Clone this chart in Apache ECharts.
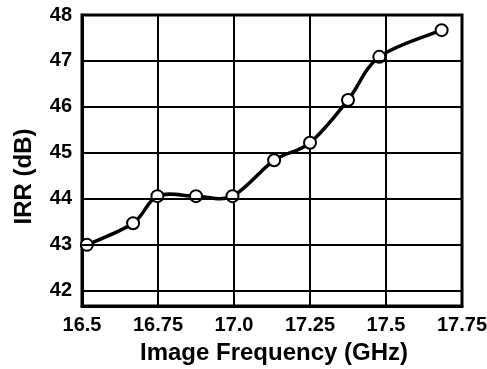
<!DOCTYPE html>
<html>
<head>
<meta charset="utf-8">
<script src="https://cdn.jsdelivr.net/npm/echarts@6/dist/echarts.min.js"></script>
<style>
  html, body { margin: 0; padding: 0; background: #fff; }
  #chart { width: 487px; height: 369px; }
</style>
</head>
<body>
<div id="chart"></div>
<script>
// Image rejection ratio versus image frequency
const freqGHz = [16.516, 16.668, 16.748, 16.875, 16.995, 17.132, 17.25, 17.375, 17.478, 17.683];
const irrDb   = [43.0, 43.47, 44.06, 44.06, 44.06, 44.84, 45.22, 46.15, 47.09, 47.67];

const xTickValues = [16.5, 16.75, 17.0, 17.25, 17.5, 17.75];
const xTickLabels = ['16.5', '16.75', '17.0', '17.25', '17.5', '17.75'];
const yTickValues = [42, 43, 44, 45, 46, 47, 48];

const font = 'Liberation Sans, Arial, Helvetica, sans-serif';
const points = freqGHz.map((f, i) => [f, irrDb[i]]);

// Smooth curve through the measured points (Catmull-Rom segments drawn as cubic Béziers
// in pixel space, positions taken from the axes via api.coord).
function renderCurve(params, api) {
  if (params.dataIndex !== 0) return null;
  const p = points.map(d => api.coord(d));
  const n = p.length;
  let d = 'M' + p[0][0] + ',' + p[0][1];
  for (let i = 0; i < n - 1; i++) {
    const p0 = p[Math.max(i - 1, 0)];
    const p1 = p[i];
    const p2 = p[i + 1];
    const p3 = p[Math.min(i + 2, n - 1)];
    const c1x = p1[0] + (p2[0] - p0[0]) / 6;
    const c1y = p1[1] + (p2[1] - p0[1]) / 6;
    const c2x = p2[0] - (p3[0] - p1[0]) / 6;
    const c2y = p2[1] - (p3[1] - p1[1]) / 6;
    d += ' C' + c1x + ',' + c1y + ' ' + c2x + ',' + c2y + ' ' + p2[0] + ',' + p2[1];
  }
  return {
    type: 'path',
    shape: { pathData: d },
    style: { fill: 'none', stroke: '#000', lineWidth: 3.5, lineJoin: 'round' }
  };
}

const chart = echarts.init(document.getElementById('chart'), null, { renderer: 'canvas' });

chart.setOption({
  animation: false,
  backgroundColor: '#fff',
  grid: {
    left: 82, right: 25, top: 15, bottom: 63,
    show: true, borderColor: '#000', borderWidth: 3,
    outerBoundsMode: 'none'
  },
  xAxis: {
    type: 'value',
    min: 16.5, max: 17.75, interval: 0.25,
    name: 'Image Frequency (GHz)',
    nameLocation: 'middle',
    nameGap: 35,
    nameTextStyle: { fontFamily: font, fontWeight: 'bold', fontSize: 24, color: '#000', padding: [0, 0, 0, 4] },
    axisLine: { show: true, lineStyle: { color: '#000', width: 3 } },
    axisTick: { show: false },
    splitLine: { show: true, lineStyle: { color: '#000', width: 2 } },
    axisLabel: {
      margin: 9,
      fontFamily: font, fontWeight: 'bold', fontSize: 20, color: '#000',
      showMinLabel: true, showMaxLabel: true,
      formatter: v => {
        const i = xTickValues.findIndex(t => Math.abs(t - v) < 1e-6);
        return i >= 0 ? xTickLabels[i] : '';
      }
    }
  },
  yAxis: {
    type: 'value',
    min: 41.67, max: 48,
    name: 'IRR (dB)',
    nameLocation: 'middle',
    nameGap: 46,
    nameTextStyle: { fontFamily: font, fontWeight: 'bold', fontSize: 24, color: '#000', padding: [0, 32, 0, 0] },
    axisLine: { show: true, lineStyle: { color: '#000', width: 3 } },
    axisTick: { show: false, customValues: yTickValues },
    splitLine: { show: false },
    axisLabel: {
      customValues: yTickValues,
      margin: 10,
      fontFamily: font, fontWeight: 'bold', fontSize: 20, color: '#000'
    }
  },
  series: [
    {
      // horizontal grid lines at each labelled dB value
      type: 'line',
      data: [],
      silent: true,
      z: 1,
      markLine: {
        silent: true,
        symbol: 'none',
        label: { show: false },
        lineStyle: { color: '#000', width: 2, type: 'solid' },
        emphasis: { disabled: true },
        data: yTickValues.map(v => ({ yAxis: v }))
      }
    },
    {
      type: 'custom',
      z: 3,
      silent: true,
      data: [points[0]],
      renderItem: renderCurve
    },
    {
      type: 'scatter',
      z: 4,
      data: points,
      symbol: 'circle',
      symbolSize: 12,
      itemStyle: { color: '#fff', borderColor: '#000', borderWidth: 2, opacity: 1 }
    }
  ]
});
</script>
</body>
</html>
